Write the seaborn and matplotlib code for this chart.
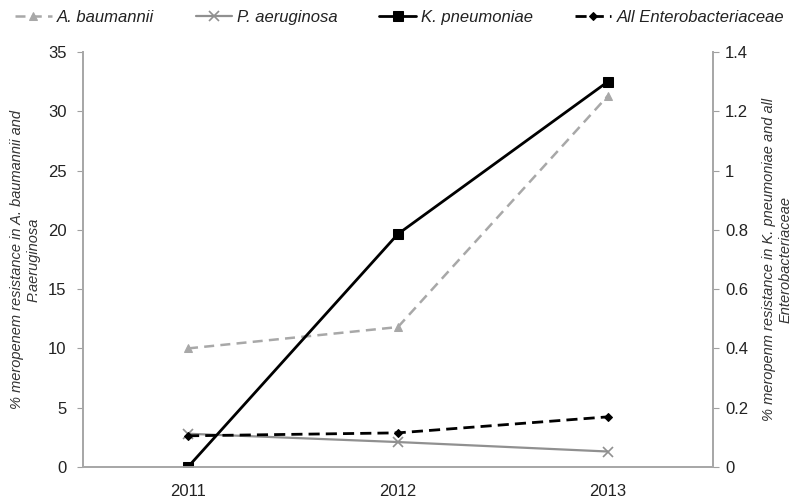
import numpy as np
import pandas as pd
import matplotlib as mpl
import matplotlib.pyplot as plt
import seaborn as sns
mpl.use('Agg')

years = [2011, 2012, 2013]
a_baumannii = [10.0, 11.8, 31.3]
p_aeruginosa = [2.8, 2.1, 1.3]
k_pneumoniae = [0.0, 0.786, 1.30]
all_entero = [0.105, 0.115, 0.169]

sns.set_style('white')
plt.rcParams['font.family'] = ['Liberation Sans', 'DejaVu Sans']
plt.rcParams['text.color'] = '#222222'
plt.rcParams['xtick.color'] = '#222222'
plt.rcParams['ytick.color'] = '#222222'

fig = plt.figure(figsize=(7.99, 5.01), dpi=100)
ax = fig.add_axes([0.104, 0.068, 0.788, 0.828])
ax2 = ax.twinx()

# left axis series
sns.lineplot(x=years, y=a_baumannii, ax=ax, color='#a8a8a8', linestyle=(0, (4, 2.5)),
             linewidth=1.8, marker='^', markersize=5.5, markeredgecolor='#a8a8a8',
             label='A. baumannii', legend=False)
sns.lineplot(x=years, y=p_aeruginosa, ax=ax, color='#909090', linewidth=1.6,
             marker='x', markersize=7, markeredgewidth=1.2, markeredgecolor='#909090',
             label='P. aeruginosa', legend=False)
# right axis series
sns.lineplot(x=years, y=k_pneumoniae, ax=ax2, color='black', linewidth=2,
             marker='s', markersize=6.5, markeredgecolor='black',
             label='K. pneumoniae', legend=False)
sns.lineplot(x=years, y=all_entero, ax=ax2, color='black', linestyle=(0, (4, 2.2)),
             linewidth=2, marker='D', markersize=4.5, markeredgecolor='black',
             label='All Enterobacteriaceae', legend=False)

ax.set_xlim(2010.5, 2013.5)
ax.set_ylim(0, 35)
ax2.set_ylim(0, 1.4)
ax.set_xticks(years)
ax.set_xticklabels([str(y) for y in years])
ax.set_xticks([2011.5, 2012.5], minor=True)
ax.tick_params(axis='x', which='major', length=0, labelsize=12, pad=12)
ax.tick_params(axis='x', which='minor', length=4, color='#a0a0a0', width=1)
ax.set_yticks(np.arange(0, 36, 5))
ax.tick_params(axis='y', length=4, color='#a0a0a0', labelsize=12, pad=8, left=True)
ax2.set_yticks([0, 0.2, 0.4, 0.6, 0.8, 1.0, 1.2, 1.4])
ax2.set_yticklabels(['0', '0.2', '0.4', '0.6', '0.8', '1', '1.2', '1.4'])
ax2.tick_params(axis='y', length=4, color='#a0a0a0', labelsize=12, pad=5, right=True)

for a in (ax, ax2):
    a.spines['top'].set_visible(False)
    for s in ('left', 'right', 'bottom'):
        a.spines[s].set_color('#a8a8a8')
        a.spines[s].set_linewidth(1.3)
    a.grid(False)

ax.set_ylabel('% meropenem resistance in A. baumannii and\nP.aeruginosa',
              fontsize=10.5, style='italic', color='#333333')
ax.yaxis.set_label_coords(-0.068, 0.5)
ax2.set_ylabel('% meropenm resistance in K. pneumoniae and all\nEnterobacteriaceae',
               fontsize=10.5, style='italic', color='#333333', rotation=90)
ax2.yaxis.set_label_coords(1.079, 0.5)

h1, l1 = ax.get_legend_handles_labels()
h2, l2 = ax2.get_legend_handles_labels()
fig.legend(h1 + h2, l1 + l2, loc='upper center', bbox_to_anchor=(0.5, 1.01), ncol=4,
           frameon=False, prop={'style': 'italic', 'size': 12}, handlelength=2.2,
           handletextpad=0.3, columnspacing=2.5)

fig.savefig('out.png', dpi=100)
